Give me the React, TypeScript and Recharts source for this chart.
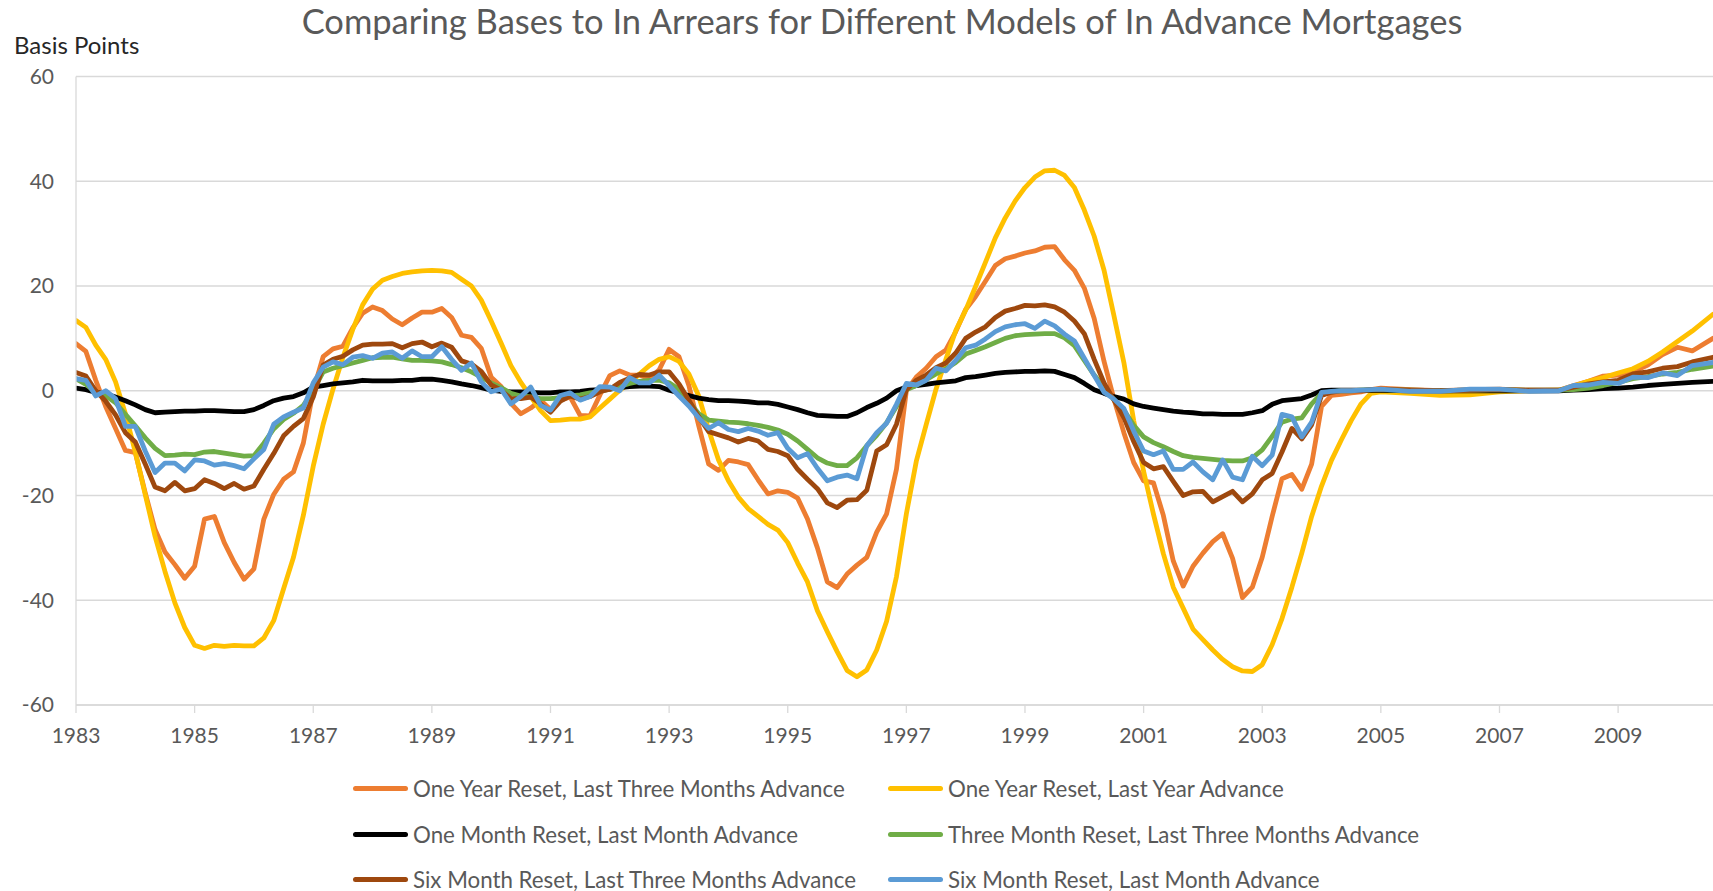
import React from "react";
import { LineChart, Line, XAxis, YAxis, CartesianGrid } from "recharts";

const W = 1713;
const H = 891;
const FONT = "Lato, 'Open Sans', sans-serif";
const TEXT = "#595959";
const GRID = "#d9d9d9";

// two-monthly samples 1983.0 .. 2005.0, then coarser once the lines flatten out
const tailYears = [
  2005.5, 2006, 2006.5, 2007, 2007.5, 2008, 2008.25, 2008.5, 2008.75, 2009,
  2009.25, 2009.5, 2009.75, 2010, 2010.25, 2010.6,
];
const years = [
  ...Array.from({ length: 133 }, (_, i) => +(1983 + i / 6).toFixed(3)),
  ...tailYears,
];

const xTicks = [1983, 1985, 1987, 1989, 1991, 1993, 1995, 1997, 1999, 2001, 2003, 2005, 2007, 2009];
const yTicks = [-60, -40, -20, 0, 20, 40, 60];

const oneYearLastThree = [
  9.0, 7.5, 2.0, -3.0, -7.2, -11.4, -11.8, -19.5, -26.5, -30.8, -33.2, -35.8, -33.5, -24.5, -24.0, -29.0, -32.8, -36.0, -34.0, -24.5, -19.8, -16.9, -15.5, -10.0, 0.0, 6.5, 8.0, 8.5, 12.0, 14.8, 16.0, 15.3, 13.7, 12.6, 13.9,
  15.0, 15.0, 15.7, 14.0, 10.6, 10.2, 8.1, 2.6, 0.8, -2.4, -4.4, -3.3, -1.8, -3.6, -1.8, -1.2, -4.7, -4.8, -0.8, 2.9, 3.8, 3.0, 3.0, 2.3, 4.0, 7.9, 6.5, 1.0, -6.7, -14.0, -15.2, -13.3, -13.6, -14.1, -17.0,
  -19.7, -19.1, -19.4, -20.5, -24.5, -30.0, -36.5, -37.6, -35.0, -33.3, -31.8, -27.0, -23.5, -15.0, 0.0, 2.6, 4.3, 6.5, 7.8, 11.3, 15.5, 18.0, 20.9, 23.9, 25.2, 25.7, 26.3, 26.7, 27.4, 27.5, 25.0, 23.0, 19.6, 13.8,
  5.6, -1.6, -8.0, -13.7, -17.2, -17.6, -23.8, -32.5, -37.3, -33.5, -31.0, -28.8, -27.3, -32.0, -39.5, -37.5, -31.8, -24.0, -16.8, -16.0, -18.8, -14.0, -3.0, -0.9, -0.7, -0.4, -0.2, 0.2, 0.5,
  0.2, 0.0, 0.2, 0.3, 0.1, 0.1, 1.0, 1.8, 2.8, 3.0, 3.6, 4.9, 6.9, 8.3, 7.6, 10.0,
];

const oneYearLastYear = [
  13.4, 12.1, 8.7, 6.0, 1.7, -4.4, -11.7, -19.8, -27.8, -34.5, -40.5, -45.2, -48.6, -49.2, -48.6, -48.8, -48.6, -48.7, -48.7, -47.2, -43.9, -37.8, -31.8, -23.8, -14.4, -6.4, 0.3, 6.4, 11.7, 16.4, 19.4, 21.1, 21.8, 22.4, 22.7,
  22.9, 23.0, 22.9, 22.6, 21.3, 20.0, 17.3, 13.3, 9.1, 4.8, 1.6, -1.1, -3.8, -5.7, -5.6, -5.4, -5.4, -5.0, -3.3, -1.6, 0.1, 1.4, 3.2, 4.8, 6.0, 6.5, 5.6, 3.2, -1.0, -7.5, -13.2, -17.2, -20.3, -22.5, -24.0,
  -25.5, -26.6, -29.0, -32.9, -36.5, -42.0, -46.0, -49.8, -53.4, -54.6, -53.3, -49.5, -44.0, -35.5, -23.5, -13.5, -6.5, 0.3, 6.0, 11.5, 15.4, 19.9, 24.5, 29.2, 33.0, 36.2, 38.8, 40.8, 42.0, 42.1, 41.1, 38.8, 34.5, 29.5,
  23.0, 14.3, 5.4, -5.7, -15.4, -23.6, -31.1, -37.5, -41.5, -45.5, -47.5, -49.5, -51.3, -52.7, -53.5, -53.6, -52.3, -48.5, -43.5, -37.5, -31.0, -24.0, -18.2, -13.3, -9.4, -5.7, -2.5, -0.5, -0.2,
  -0.5, -0.9, -0.8, -0.2, 0.0, 0.1, 0.9, 1.8, 2.5, 3.4, 4.2, 5.6, 7.4, 9.4, 11.4, 14.6,
];

const oneMonthLastMonth = [
  0.5, 0.2, -0.3, -0.6, -1.2, -1.9, -2.7, -3.6, -4.2, -4.1, -4.0, -3.9, -3.9, -3.8, -3.8, -3.9, -4.0, -4.0, -3.6, -2.8, -1.9, -1.4, -1.1, -0.4, 0.7, 1.0, 1.3, 1.5, 1.7, 2.0, 1.9, 1.9, 1.9, 2.0, 2.0,
  2.2, 2.2, 2.0, 1.7, 1.3, 1.0, 0.6, 0.1, -0.1, -0.2, -0.2, -0.3, -0.4, -0.4, -0.2, -0.2, -0.1, 0.1, 0.2, 0.3, 0.6, 0.8, 0.9, 0.9, 0.8, 0.1, -0.4, -0.9, -1.4, -1.7, -1.9, -1.9, -2.0, -2.1, -2.3,
  -2.3, -2.6, -3.1, -3.6, -4.2, -4.7, -4.8, -4.9, -4.9, -4.2, -3.2, -2.4, -1.4, 0.0, 0.7, 1.0, 1.2, 1.5, 1.7, 1.9, 2.5, 2.7, 3.0, 3.3, 3.5, 3.6, 3.7, 3.7, 3.8, 3.7, 3.1, 2.5, 1.4, 0.2,
  -0.5, -1.1, -1.6, -2.5, -3.0, -3.3, -3.6, -3.9, -4.1, -4.2, -4.4, -4.4, -4.5, -4.5, -4.5, -4.2, -3.8, -2.6, -1.9, -1.7, -1.5, -0.8, 0.0, 0.1, 0.1, 0.1, 0.1, 0.1, 0.1,
  0.0, 0.0, 0.0, 0.0, 0.0, 0.0, 0.1, 0.2, 0.4, 0.5, 0.7, 1.0, 1.2, 1.4, 1.6, 1.8,
];

const threeMonthLastThree = [
  2.3, 1.2, -0.3, -0.9, -2.3, -4.5, -6.7, -9.0, -11.0, -12.4, -12.3, -12.1, -12.2, -11.7, -11.6, -11.9, -12.2, -12.5, -12.4, -10.0, -7.3, -5.5, -4.3, -2.8, 0.0, 3.6, 4.3, 4.8, 5.3, 5.8, 6.3, 6.4, 6.4, 6.1, 5.8,
  5.8, 5.7, 5.5, 5.0, 4.4, 3.6, 2.6, 1.5, 0.6, -0.5, -1.0, -1.2, -1.5, -1.5, -1.3, -1.0, -0.8, -0.4, -0.1, 0.3, 0.8, 1.4, 1.8, 2.0, 2.0, 1.5, 0.3, -2.1, -4.4, -5.6, -5.8, -6.0, -6.1, -6.3, -6.6,
  -7.0, -7.5, -8.3, -9.6, -11.2, -12.8, -13.8, -14.3, -14.3, -12.8, -10.5, -8.5, -6.1, -3.0, 0.2, 1.0, 2.1, 3.2, 4.2, 5.4, 7.0, 7.7, 8.4, 9.2, 10.0, 10.5, 10.7, 10.8, 10.9, 10.9, 10.1, 8.6, 5.8, 3.0,
  0.7, -1.7, -3.7, -6.6, -8.8, -9.9, -10.7, -11.6, -12.4, -12.7, -12.9, -13.1, -13.3, -13.4, -13.4, -12.8, -11.3, -8.7, -6.0, -5.4, -5.2, -2.5, -0.5, -0.2, 0.0, 0.0, 0.1, 0.2, 0.2,
  0.1, 0.0, 0.1, 0.2, 0.1, 0.1, 0.2, 0.5, 1.0, 1.6, 2.3, 2.7, 3.2, 3.5, 4.1, 4.7,
];

const sixMonthLastThree = [
  3.5, 2.8, 0.0, -2.0, -4.6, -8.0, -9.8, -14.0, -18.4, -19.1, -17.5, -19.1, -18.7, -17.0, -17.7, -18.7, -17.7, -18.8, -18.2, -15.0, -12.0, -8.6, -6.8, -5.3, -1.2, 4.9, 6.0, 6.6, 7.8, 8.7, 8.9, 8.9, 9.0, 8.2, 9.0,
  9.3, 8.4, 9.1, 8.3, 5.7, 5.1, 3.7, 1.1, 0.1, -1.5, -1.5, -1.2, -2.5, -4.1, -2.0, -1.0, -1.6, -1.1, -0.2, 0.3, 1.6, 2.4, 3.1, 3.0, 3.6, 3.6, 1.3, -1.8, -5.0, -7.8, -8.4, -9.0, -9.8, -9.1, -9.6,
  -11.2, -11.6, -12.4, -15.0, -16.9, -18.7, -21.4, -22.3, -20.9, -20.8, -19.0, -11.5, -10.3, -6.4, 0.2, 2.0, 3.0, 4.4, 5.3, 7.2, 10.0, 11.2, 12.2, 14.0, 15.2, 15.7, 16.3, 16.2, 16.4, 16.0, 15.0, 13.3, 10.9, 6.0,
  1.5, -1.8, -5.1, -9.7, -13.7, -14.9, -14.5, -17.3, -20.0, -19.3, -19.2, -21.2, -20.2, -19.2, -21.2, -19.7, -17.0, -15.8, -11.7, -7.2, -9.2, -6.5, -0.9, -0.3, 0.0, 0.0, 0.0, 0.2, 0.3,
  0.1, 0.0, 0.1, 0.2, 0.1, 0.1, 0.7, 1.3, 1.7, 2.0, 3.2, 3.6, 4.3, 4.6, 5.5, 6.4,
];

const sixMonthLastMonth = [
  2.3, 2.0, -1.0, 0.0, -1.5, -6.8, -6.8, -11.5, -15.6, -13.8, -13.8, -15.3, -13.2, -13.4, -14.2, -13.9, -14.3, -14.9, -13.0, -11.2, -6.4, -5.0, -4.1, -3.3, 1.5, 4.5, 5.5, 5.0, 6.4, 6.7, 6.2, 7.2, 7.4, 6.2, 7.6,
  6.5, 6.5, 8.4, 6.0, 3.9, 5.3, 1.7, -0.2, 0.3, -2.5, -1.1, 0.7, -2.8, -3.7, -0.9, -0.4, -1.8, -1.1, 0.8, 0.7, 0.0, 2.5, 1.5, 1.5, 3.0, 1.0, -1.0, -2.9, -5.2, -7.2, -6.1, -7.4, -7.8, -7.2, -7.7,
  -8.5, -8.0, -11.0, -12.8, -12.0, -14.8, -17.2, -16.5, -16.1, -16.8, -10.5, -8.0, -6.2, -2.6, 1.4, 1.1, 2.0, 4.3, 3.8, 5.8, 8.2, 8.7, 9.9, 11.3, 12.2, 12.6, 12.8, 11.9, 13.3, 12.4, 10.8, 9.5, 6.2, 2.9,
  -0.3, -1.6, -3.4, -7.7, -11.5, -12.2, -11.5, -15.0, -15.0, -13.6, -15.5, -17.0, -13.2, -16.5, -17.0, -12.5, -14.3, -12.3, -4.5, -5.0, -8.8, -6.0, -0.3, -0.1, 0.0, 0.0, 0.1, 0.2, 0.3,
  -0.1, -0.1, 0.3, 0.3, -0.1, 0.0, 1.0, 1.1, 1.6, 1.4, 2.6, 2.5, 3.4, 2.9, 4.8, 5.4,
];

const series = [
  { key: "oneYearLastThree", name: "One Year Reset, Last Three Months Advance", color: "#ED7D31", values: oneYearLastThree },
  { key: "oneYearLastYear", name: "One Year Reset, Last Year Advance", color: "#FFC000", values: oneYearLastYear },
  { key: "oneMonthLastMonth", name: "One Month Reset, Last Month Advance", color: "#000000", values: oneMonthLastMonth },
  { key: "threeMonthLastThree", name: "Three Month Reset, Last Three Months Advance", color: "#70AD47", values: threeMonthLastThree },
  { key: "sixMonthLastThree", name: "Six Month Reset, Last Three Months Advance", color: "#9E480E", values: sixMonthLastThree },
  { key: "sixMonthLastMonth", name: "Six Month Reset, Last Month Advance", color: "#5B9BD5", values: sixMonthLastMonth },
];

const data = years.map((year, i) => {
  const row: Record<string, number> = { year };
  series.forEach((s) => {
    row[s.key] = s.values[i];
  });
  return row;
});

const legendCols = [353, 888];
const legendRows = [788, 834, 879];

export default function App() {
  return (
    <div style={{ position: "absolute", left: 0, top: 0, width: W, height: H, fontFamily: FONT, background: "#fff", overflow: "hidden" }}>
      <div
        style={{
          position: "absolute",
          left: 882,
          top: 1,
          transform: "translateX(-50%)",
          whiteSpace: "nowrap",
          fontSize: 34.5,
          lineHeight: "40px",
          color: TEXT,
        }}
      >
        Comparing Bases to In Arrears for Different Models of In Advance Mortgages
      </div>
      <div style={{ position: "absolute", left: 14, top: 30, fontSize: 24, lineHeight: "30px", color: "#262626" }}>
        Basis Points
      </div>

      <LineChart width={W} height={H} data={data} margin={{ top: 76.5, right: 0, bottom: 146, left: 0 }}>
        <CartesianGrid vertical={false} stroke={GRID} strokeWidth={1.3} />
        <XAxis
          dataKey="year"
          type="number"
          domain={[1983, 2010.6]}
          allowDataOverflow
          ticks={xTicks}
          interval={0}
          height={40}
          stroke={GRID}
          strokeWidth={1.3}
          tickSize={8}
          tickMargin={15}
          tick={{ fill: TEXT, fontSize: 21, fontFamily: FONT }}
        />
        <YAxis
          type="number"
          domain={[-60, 60]}
          ticks={yTicks}
          interval={0}
          width={76}
          stroke={GRID}
          strokeWidth={1.3}
          tickLine={false}
          tickSize={0}
          tickMargin={22}
          tick={{ fill: TEXT, fontSize: 21, fontFamily: FONT }}
        />
        {series.map((s) => (
          <Line
            key={s.key}
            type="linear"
            dataKey={s.key}
            name={s.name}
            stroke={s.color}
            strokeWidth={4.8}
            strokeLinejoin="round"
            strokeLinecap="round"
            dot={false}
            activeDot={false}
            isAnimationActive={false}
          />
        ))}
      </LineChart>

      {series.map((s, i) => (
        <div
          key={s.key}
          style={{
            position: "absolute",
            left: legendCols[i % 2],
            top: legendRows[Math.floor(i / 2)] - 14,
            height: 28,
            display: "flex",
            alignItems: "center",
            whiteSpace: "nowrap",
            fontSize: 22.3,
            color: TEXT,
          }}
        >
          <span style={{ display: "inline-block", width: 55, height: 5, borderRadius: 3, background: s.color, marginRight: 5 }} />
          <span>{s.name}</span>
        </div>
      ))}
    </div>
  );
}
